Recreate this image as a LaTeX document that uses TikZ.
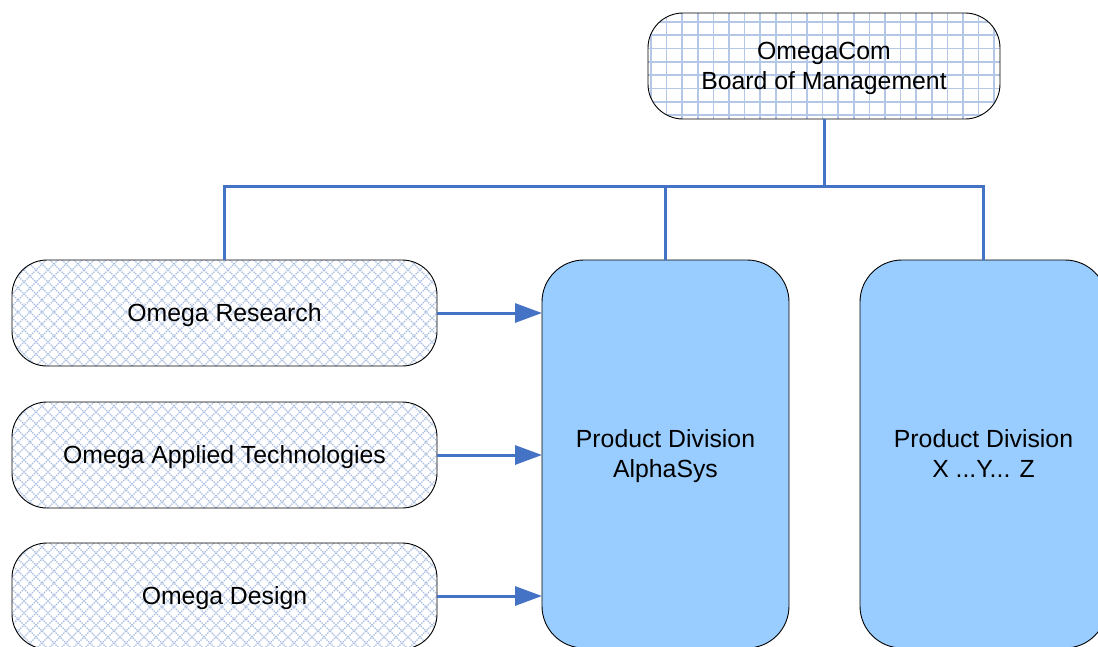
\documentclass[tikz,border=0pt]{standalone}
\usepackage{fontspec}
\setmainfont{Liberation Sans}
\usetikzlibrary{arrows.meta}
\definecolor{conncol}{RGB}{68,114,196}
\definecolor{divfill}{RGB}{153,204,255}
\definecolor{gridcol}{RGB}{180,199,231}
\definecolor{hatchcol}{RGB}{170,190,225}
\tikzset{
  x=1pt, y=-1pt,
  every node/.style={font=\fontsize{24.8}{30}\selectfont, align=center,
    inner sep=0pt, outer sep=0pt, text depth=0pt},
  gridbox/.style={draw=black, line width=0.9pt, rounded corners=35pt,
    minimum width=352pt, minimum height=106pt,
    path picture={
      \foreach \i in {0,...,24}
        \draw[gridcol, line width=1.6pt] ([xshift=\i*15.6pt+3pt]path picture bounding box.south west) -- ++(0pt,120pt);
      \foreach \j in {0,...,9}
        \draw[gridcol, line width=1.6pt] ([yshift=\j*13.3pt+4pt]path picture bounding box.south west) -- ++(360pt,0pt);
    }},
  hatchbox/.style={draw=black, line width=0.9pt, rounded corners=35pt,
    minimum width=425pt, minimum height=106pt,
    path picture={
      \foreach \i in {-20,...,60} {
        \draw[hatchcol, line width=1.3pt, dash pattern=on 1.4pt off 1pt] ([xshift=\i*12pt]path picture bounding box.south west) -- ++(130pt,130pt);
        \draw[hatchcol, line width=1.3pt, dash pattern=on 1.4pt off 1pt] ([xshift=\i*12pt]path picture bounding box.south west) -- ++(-130pt,130pt);
      }
    }},
  divbox/.style={draw=black, line width=0.9pt, fill=divfill, rounded corners=42pt,
    minimum width=247pt, minimum height=388pt},
  conn/.style={draw=conncol, line width=3pt},
  arr/.style={conn, -{Triangle[length=27pt,width=19pt]}}
}
\begin{document}
\begin{tikzpicture}
  \useasboundingbox (0,0) rectangle (1098,646);
  \clip (0,0) rectangle (1098,646);

  % management board
  \node[gridbox, anchor=north west] (board) at (648,13) {OmegaCom\\Board of Management};

  % central units
  \node[hatchbox, anchor=north west] (research) at (12,260) {Omega Research};
  \node[hatchbox, anchor=north west] (applied) at (12,402) {Omega Applied Technologies};
  \node[hatchbox, anchor=north west] (design) at (12,543) {Omega Design};

  % product divisions
  \node[divbox, anchor=north west] (alpha) at (542,260) {Product Division\\AlphaSys};
  \node[divbox, anchor=north west] (xyz) at (860,260) {Product Division\\X ...Y... Z};

  % reporting lines
  \coordinate (bus) at (0,186);
  \draw[conn] (board.south) -- (board.south |- bus);
  \draw[conn] (research.north) -- (research.north |- bus) -- (xyz.north |- bus) -- (xyz.north);
  \draw[conn] (alpha.north |- bus) -- (alpha.north);

  % flows into the division
  \draw[arr] (research.east) -- (research.east -| alpha.west);
  \draw[arr] (applied.east) -- (applied.east -| alpha.west);
  \draw[arr] (design.east) -- (design.east -| alpha.west);
\end{tikzpicture}
\end{document}
